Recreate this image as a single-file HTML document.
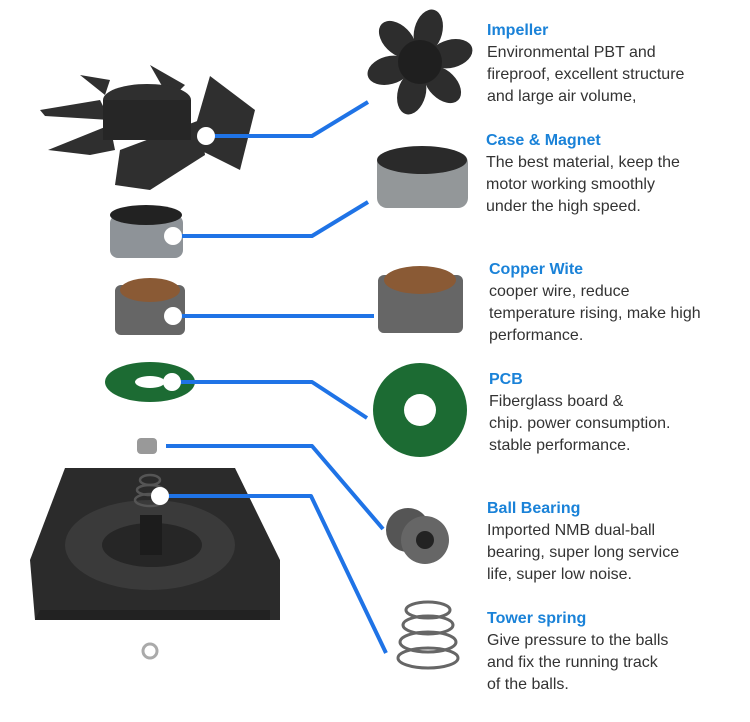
<!DOCTYPE html>
<html><head><meta charset="utf-8"><style>
body{margin:0;background:#fff;width:750px;height:722px;overflow:hidden;position:relative;font-family:"Liberation Sans",sans-serif}
svg{position:absolute;left:0;top:0}
.t{position:absolute;left:487px;font-size:16px;line-height:22px;color:#333;white-space:nowrap}
.t b{display:block;color:#1a82d8;font-size:16px}
</style></head><body>
<svg width="750" height="722" viewBox="0 0 750 722">
<!-- left impeller -->
<g fill="#2f2f2f">
<path d="M40 110 L100 100 L110 120 L45 116Z"/>
<path d="M48 150 L110 125 L115 150 L90 155Z"/>
<path d="M80 75 L110 80 L105 95 Z"/>
<path d="M150 65 L185 85 L170 100Z"/>
<path d="M210 76 L255 110 L240 170 L190 145Z"/>
<path d="M120 150 L200 120 L205 155 L150 190 L115 185Z"/>
<ellipse cx="147" cy="100" rx="44" ry="16"/>
<rect x="103" y="100" width="88" height="40" fill="#262626"/>
</g>
<!-- right impeller -->
<g fill="#2d2d2d">
<g transform="translate(420,62)">
<ellipse cx="0" cy="-32" rx="14" ry="22" transform="rotate(15)"/>
<ellipse cx="0" cy="-32" rx="14" ry="22" transform="rotate(75)"/>
<ellipse cx="0" cy="-32" rx="14" ry="22" transform="rotate(135)"/>
<ellipse cx="0" cy="-32" rx="14" ry="22" transform="rotate(195)"/>
<ellipse cx="0" cy="-32" rx="14" ry="22" transform="rotate(255)"/>
<ellipse cx="0" cy="-32" rx="14" ry="22" transform="rotate(315)"/>
</g>
</g>
<circle cx="420" cy="62" r="22" fill="#1f1f1f"/>
<!-- rings -->
<rect x="110" y="215" width="73" height="43" rx="8" fill="#8e9398"/>
<ellipse cx="146" cy="215" rx="36" ry="10" fill="#222"/>
<rect x="377" y="153" width="91" height="55" rx="10" fill="#939799"/>
<ellipse cx="422" cy="160" rx="45" ry="14" fill="#2a2a2a"/>
<!-- stators -->
<rect x="115" y="285" width="70" height="50" rx="6" fill="#666"/>
<ellipse cx="150" cy="290" rx="30" ry="12" fill="#8a5a35"/>
<rect x="378" y="275" width="85" height="58" rx="6" fill="#666"/>
<ellipse cx="420" cy="280" rx="36" ry="14" fill="#8a5a35"/>
<!-- PCBs -->
<ellipse cx="150" cy="382" rx="45" ry="20" fill="#1c6b33"/>
<ellipse cx="150" cy="382" rx="15" ry="6" fill="#fff"/>
<circle cx="420" cy="410" r="47" fill="#1c6b33"/>
<circle cx="420" cy="410" r="16" fill="#fff"/>
<!-- nut -->
<rect x="137" y="438" width="20" height="16" rx="4" fill="#999"/>
<!-- frame -->
<path d="M65 468 L235 468 L280 560 L280 620 L35 620 L30 560Z" fill="#2b2b2b"/>
<path d="M35 620 L270 620 L270 610 L40 610Z" fill="#222"/>
<ellipse cx="150" cy="545" rx="85" ry="45" fill="#3a3a3a"/>
<ellipse cx="152" cy="545" rx="50" ry="22" fill="#262626"/>
<rect x="140" y="515" width="22" height="40" fill="#1c1c1c"/>
<!-- small spring -->
<g fill="none" stroke="#555" stroke-width="2.5">
<ellipse cx="150" cy="480" rx="10" ry="5"/><ellipse cx="150" cy="490" rx="13" ry="5"/><ellipse cx="150" cy="500" rx="15" ry="6"/>
</g>
<circle cx="150" cy="651" r="7" fill="none" stroke="#aaa" stroke-width="3"/>
<!-- bearings -->
<circle cx="408" cy="530" r="22" fill="#555"/><circle cx="425" cy="540" r="24" fill="#666"/><circle cx="425" cy="540" r="9" fill="#222"/>
<!-- tower spring -->
<g fill="none" stroke="#666" stroke-width="3">
<ellipse cx="428" cy="610" rx="22" ry="8"/><ellipse cx="428" cy="625" rx="25" ry="9"/><ellipse cx="428" cy="642" rx="28" ry="10"/><ellipse cx="428" cy="658" rx="30" ry="10"/>
</g>
<!-- connectors -->
<g fill="none" stroke="#1f73e6" stroke-width="4" stroke-linejoin="round">
<polyline points="206,136 312,136 368,102"/>
<polyline points="173,236 312,236 368,202"/>
<polyline points="173,316 374,316"/>
<polyline points="172,382 312,382 367,418"/>
<polyline points="166,446 312,446 383,529"/>
<polyline points="160,496 311,496 386,653"/>
</g>
<g fill="#fff">
<circle cx="206" cy="136" r="9"/><circle cx="173" cy="236" r="9"/><circle cx="173" cy="316" r="9"/>
<circle cx="172" cy="382" r="9"/><circle cx="160" cy="496" r="9"/>
</g>
</svg>
<div class="t" style="top:20px"><b>Impeller</b>Environmental PBT and<br>fireproof, excellent structure<br>and large air volume,</div>
<div class="t" style="top:130px;left:486px"><b>Case &amp; Magnet</b>The best material, keep the<br>motor working smoothly<br>under the high speed.</div>
<div class="t" style="top:259px;left:489px"><b>Copper Wite</b>cooper wire, reduce<br>temperature rising, make high<br>performance.</div>
<div class="t" style="top:369px;left:489px"><b>PCB</b>Fiberglass board &amp;<br>chip. power consumption.<br>stable performance.</div>
<div class="t" style="top:498px;left:487px"><b>Ball Bearing</b>Imported NMB dual-ball<br>bearing, super long service<br>life, super low noise.</div>
<div class="t" style="top:608px;left:487px"><b>Tower spring</b>Give pressure to the balls<br>and fix the running track<br>of the balls.</div>
</body></html>
